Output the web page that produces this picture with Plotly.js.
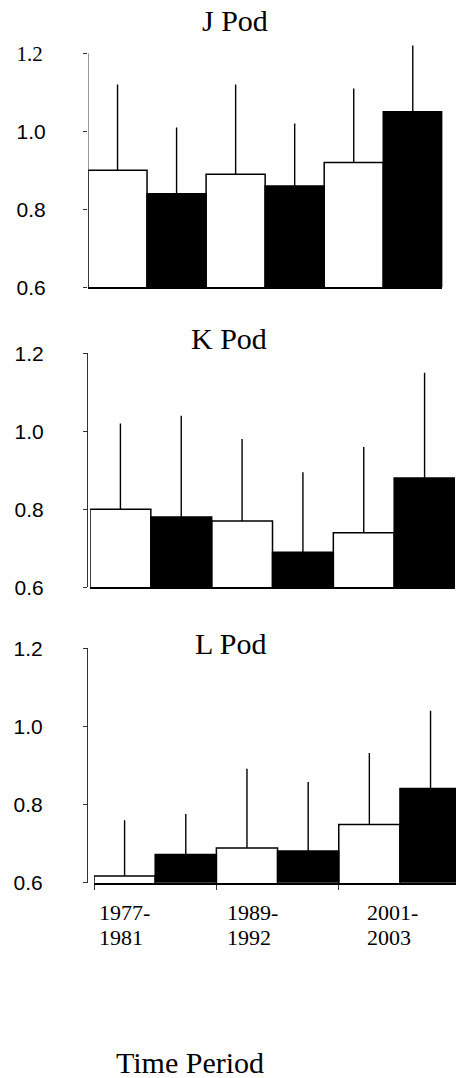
<!DOCTYPE html>
<html>
<head>
<meta charset="utf-8">
<script src="https://cdn.plot.ly/plotly-3.0.1.min.js"></script>
<style>html,body{margin:0;padding:0;overflow:hidden;background:#fff;}</style>
</head>
<body>
<div id="chart" style="width:456px;height:1078px;"></div>
<script>
// ---- data ----
const periods = ['1977-1981', '1989-1992', '2001-2003'];
const periodLabels = [['1977-', '1981'], ['1989-', '1992'], ['2001-', '2003']];
const podNames = ['J Pod', 'K Pod', 'L Pod'];

const jWhite = [0.90, 0.89, 0.92];
const jWhiteErr = [0.22, 0.23, 0.19];
const jBlack = [0.84, 0.86, 1.05];
const jBlackErr = [0.17, 0.16, 0.17];

const kWhite = [0.80, 0.77, 0.74];
const kWhiteErr = [0.22, 0.21, 0.22];
const kBlack = [0.78, 0.69, 0.88];
const kBlackErr = [0.26, 0.205, 0.27];

const lWhite = [0.617, 0.689, 0.749];
const lWhiteErr = [0.143, 0.203, 0.183];
const lBlack = [0.672, 0.681, 0.841];
const lBlackErr = [0.104, 0.177, 0.199];

const yTickVals = [0.6, 0.8, 1.0, 1.2];
const yTickText = ['0.6', '0.8', '1.0', '1.2'];
const yTickValsJ = [0.6, 0.8, 1.0];
const yTickTextJ = ['0.6', '0.8', '1.0'];
const yTopTickJ = [1.2];
const xTickVals = [-0.5, 0.5, 1.5];

// ---- build ----
const xs = periods.map((_, i) => i);
function barTrace(vals, errs, fill, ax) {
  return {
    type: 'bar', x: xs, y: vals, xaxis: 'x' + ax, yaxis: 'y' + ax,
    marker: {color: fill, line: {color: '#000', width: 1.5}},
    error_y: {type: 'data', symmetric: false, array: errs, arrayminus: errs.map(() => 0),
              width: 0, thickness: 1.4, color: '#000'},
    hoverinfo: 'skip'
  };
}
const data = [
  barTrace(jWhite, jWhiteErr, '#fff', ''), barTrace(jBlack, jBlackErr, '#000', ''),
  barTrace(kWhite, kWhiteErr, '#fff', '2'), barTrace(kBlack, kBlackErr, '#000', '2'),
  barTrace(lWhite, lWhiteErr, '#fff', '3'), barTrace(lBlack, lBlackErr, '#000', '3')
];

const W = 456, H = 1078;
const sansFont = {family: 'Liberation Sans, Arial, sans-serif', size: 21, color: '#000'};
const serif = 'Liberation Serif, Times New Roman, serif';

function yAxis(dom, range, standoff, vals, texts, showline) {
  return {domain: dom, range: range, tickvals: vals, ticktext: texts,
    ticks: 'outside', ticklen: 4, tickcolor: '#333', tickwidth: 1,
    showline: showline, linecolor: '#333', linewidth: 1,
    showgrid: false, zeroline: false, tickfont: sansFont, ticklabelstandoff: standoff, fixedrange: true};
}
function xAxis(dom, range, anchor, ticks) {
  return {domain: dom, range: range, anchor: anchor, showline: true, linecolor: '#000', linewidth: 2,
    showgrid: false, zeroline: false, showticklabels: false,
    tickvals: xTickVals, ticks: ticks ? 'outside' : '', ticklen: 5, tickcolor: '#333', tickwidth: 1, fixedrange: true};
}

const domJ = [1 - 287.3 / H, 1 - 43.55 / H];
const layout = {
  width: W, height: H, margin: {l: 0, r: 0, t: 0, b: 0},
  paper_bgcolor: '#fff', plot_bgcolor: '#fff', showlegend: false,
  barmode: 'group', bargap: 0, bargroupgap: 0,
  xaxis: xAxis([88 / W, 442.3 / W], [-0.5, 2.5], 'y', false),
  yaxis: yAxis(domJ, [0.6, 1.225], 33, yTickValsJ, yTickTextJ, false),
  yaxis4: Object.assign(yAxis(domJ, [0.6, 1.225], 36, yTopTickJ, ['1.2'], false),
    {overlaying: 'y', anchor: 'x', side: 'left', tickfont: {family: serif, size: 21, color: '#000'}}),
  xaxis2: xAxis([90 / W, 455 / W], [-0.5, 2.5], 'y2', false),
  yaxis2: yAxis([1 - 587.3 / H, 1 - 353.3 / H], [0.6, 1.2], 35, yTickVals, yTickText, true),
  xaxis3: xAxis([94 / W, 1], [-0.5, 2.458], 'y3', true),
  yaxis3: yAxis([1 - 882.7 / H, 1 - 648.3 / H], [0.6, 1.2], 36, yTickVals, yTickText, true),
  shapes: [
    {type: 'line', xref: 'x', yref: 'y', x0: -0.5, x1: -0.5, y0: 0.6, y1: 1.2,
     line: {color: '#333', width: 1}, layer: 'above'}
  ],
  annotations: [
    {text: podNames[0], xref: 'paper', yref: 'paper', x: 235 / W, y: 1 - 20.5 / H, xanchor: 'center', yanchor: 'middle', showarrow: false, font: {family: serif, size: 30, color: '#000'}},
    {text: podNames[1], xref: 'paper', yref: 'paper', x: 229 / W, y: 1 - 338.7 / H, xanchor: 'center', yanchor: 'middle', showarrow: false, font: {family: serif, size: 30, color: '#000'}},
    {text: podNames[2], xref: 'paper', yref: 'paper', x: 231 / W, y: 1 - 643 / H, xanchor: 'center', yanchor: 'middle', showarrow: false, font: {family: serif, size: 30, color: '#000'}},
    {text: 'Time Period', xref: 'paper', yref: 'paper', x: 190 / W, y: 1 - 1062 / H, xanchor: 'center', yanchor: 'middle', showarrow: false, font: {family: serif, size: 30, color: '#000'}}
  ]
};
const labelX = [97, 225, 365];
const lineY = [912.5, 937.5];
periodLabels.forEach((lines, i) => {
  lines.forEach((t, j) => {
    layout.annotations.push({text: t, xref: 'paper', yref: 'paper', x: labelX[i] / W, y: 1 - lineY[j] / H,
      xanchor: 'left', yanchor: 'middle', align: 'left', showarrow: false,
      font: {family: serif, size: 22, color: '#000'}});
  });
});

// invisible carrier trace so the overlaying J axis is drawn
data.push({type: 'scatter', x: [], y: [], xaxis: 'x', yaxis: 'y4', hoverinfo: 'skip', showlegend: false});

Plotly.newPlot('chart', data, layout, {staticPlot: true, displayModeBar: false});
</script>
</body>
</html>
